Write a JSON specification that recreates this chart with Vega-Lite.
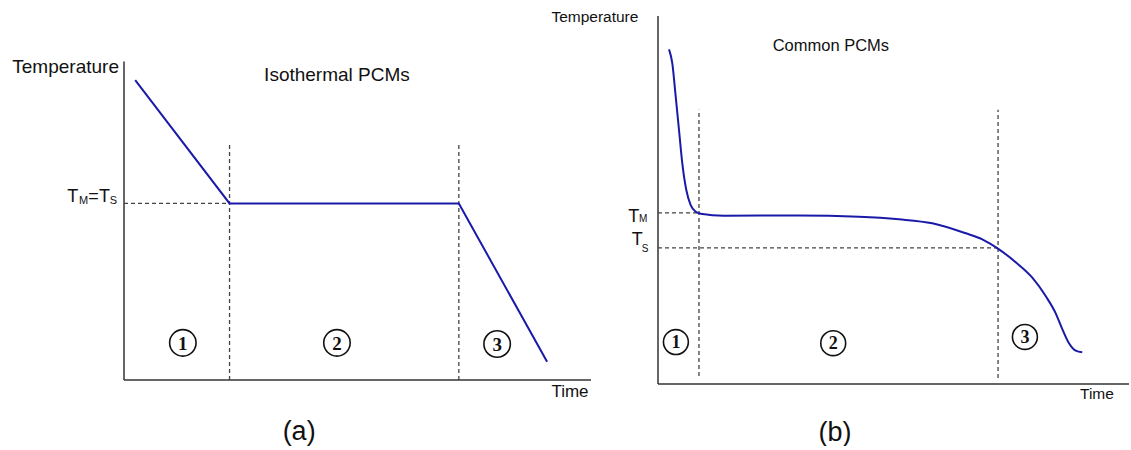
{
  "$schema": "https://vega.github.io/schema/vega-lite/v6.json",
  "padding": {"left": 12, "top": 10, "right": 0, "bottom": 0},
  "bounds": "flush",
  "spacing": 67,
  "config": {"view": {"stroke": null}, "font": "Liberation Sans"},
  "datasets": {
    "a_axes": [{"t": 0, "T": 0, "t2": 0, "T2": 87.5}, {"t": 0, "T": 0, "t2": 100, "T2": 0}],
    "a_dash": [{"t": 22.6, "T": 0, "t2": 22.6, "T2": 64.6}, {"t": 71.7, "T": 0, "t2": 71.7, "T2": 64.6}, {"t": 0, "T": 48.5, "t2": 22.6, "T2": 48.5}],
    "a_curve": [{"t": 2.4, "T": 82.4}, {"t": 22.6, "T": 48.5}, {"t": 71.7, "T": 48.5}, {"t": 90.6, "T": 5.0}],
    "a_phase": [{"t": 12.6, "T": 10.2, "label": "1"}, {"t": 45.6, "T": 10.2, "label": "2"}, {"t": 79.9, "T": 9.9, "label": "3"}],
    "a_big": [{"t": -12.5, "T": 86.0, "label": "Temperature"}, {"t": 45.6, "T": 83.7, "label": "Isothermal PCMs"}],
    "a_time": [{"t": 95.5, "T": -3.3, "label": "Time"}],
    "a_cap": [{"t": 37.5, "T": -14.3, "label": "(a)"}],
    "a_sym": [{"t": -12.14, "T": 49.0, "label": "T"}, {"t": -7.64, "T": 49.0, "label": "="}, {"t": -5.35, "T": 49.0, "label": "T"}],
    "a_sub": [{"t": -9.64, "T": 48.4, "label": "M"}, {"t": -3.06, "T": 48.4, "label": "S"}],
    "b_axes": [{"t": 0, "T": 0, "t2": 0, "T2": 100}, {"t": 0, "T": 0, "t2": 100, "T2": 0}],
    "b_dash": [{"t": 8.7, "T": 2.2, "t2": 8.7, "T2": 74.5}, {"t": 72.2, "T": 1.6, "t2": 72.2, "T2": 74.5}, {"t": 0, "T": 46.5, "t2": 8.7, "T2": 46.5}, {"t": 0, "T": 37.0, "t2": 72.2, "T2": 37.0}],
    "b_curve": [
      {"t": 2.34, "T": 90.95}, {"t": 3.04, "T": 87.15}, {"t": 3.76, "T": 78.07}, {"t": 4.46, "T": 69.02},
      {"t": 5.16, "T": 59.97}, {"t": 6.01, "T": 52.72}, {"t": 6.94, "T": 48.64}, {"t": 8.0, "T": 46.82},
      {"t": 9.07, "T": 46.28}, {"t": 14.01, "T": 45.73}, {"t": 29.94, "T": 45.79}, {"t": 42.68, "T": 45.46},
      {"t": 51.17, "T": 44.76}, {"t": 58.24, "T": 43.67}, {"t": 65.33, "T": 40.95}, {"t": 68.85, "T": 39.32},
      {"t": 72.4, "T": 36.6}, {"t": 75.94, "T": 33.1}, {"t": 79.47, "T": 28.9}, {"t": 82.31, "T": 23.9},
      {"t": 84.44, "T": 19.21}, {"t": 85.84, "T": 14.9}, {"t": 87.26, "T": 11.06}, {"t": 88.68, "T": 9.05},
      {"t": 90.08, "T": 8.61}
    ],
    "b_phase": [{"t": 3.8, "T": 11.4, "label": "1"}, {"t": 37.2, "T": 11.1, "label": "2"}, {"t": 77.9, "T": 12.8, "label": "3"}],
    "b_temp": [{"t": -13.4, "T": 99.7, "label": "Temperature"}, {"t": 93.2, "T": -2.7, "label": "Time"}],
    "b_title": [{"t": 36.7, "T": 91.8, "label": "Common PCMs"}],
    "b_cap": [{"t": 37.6, "T": -13.3, "label": "(b)"}],
    "b_sym": [{"t": -6.31, "T": 44.1, "label": "T"}, {"t": -5.58, "T": 37.8, "label": "T"}],
    "b_sub": [{"t": -4.03, "T": 43.9, "label": "M"}, {"t": -3.46, "T": 35.8, "label": "S"}]
  },
  "hconcat": [
    {
      "width": 467,
      "height": 364,
      "layer": [
        {
          "data": {"name": "a_axes"},
          "mark": {"type": "rule", "color": "#333333", "strokeWidth": 1.5},
          "encoding": {
            "x": {"field": "t", "type": "quantitative", "scale": {"domain": [0, 100], "nice": false, "zero": false}, "axis": null},
            "y": {"field": "T", "type": "quantitative", "scale": {"domain": [0, 100], "nice": false, "zero": false}, "axis": null},
            "x2": {"field": "t2"},
            "y2": {"field": "T2"}
          }
        },
        {
          "data": {"name": "a_dash"},
          "mark": {"type": "rule", "color": "#444444", "strokeWidth": 1.3, "strokeDash": [4, 3]},
          "encoding": {
            "x": {"field": "t", "type": "quantitative", "scale": {"domain": [0, 100], "nice": false, "zero": false}, "axis": null},
            "y": {"field": "T", "type": "quantitative", "scale": {"domain": [0, 100], "nice": false, "zero": false}, "axis": null},
            "x2": {"field": "t2"},
            "y2": {"field": "T2"}
          }
        },
        {
          "data": {"name": "a_curve"},
          "mark": {"type": "line", "color": "#1a1aa8", "strokeWidth": 2},
          "encoding": {
            "x": {"field": "t", "type": "quantitative", "scale": {"domain": [0, 100], "nice": false, "zero": false}, "axis": null},
            "y": {"field": "T", "type": "quantitative", "scale": {"domain": [0, 100], "nice": false, "zero": false}, "axis": null}
          }
        },
        {
          "data": {"name": "a_phase"},
          "mark": {"type": "point", "shape": "circle", "filled": false, "size": 700, "color": "#111111", "strokeWidth": 1.6, "opacity": 1},
          "encoding": {
            "x": {"field": "t", "type": "quantitative", "scale": {"domain": [0, 100], "nice": false, "zero": false}, "axis": null},
            "y": {"field": "T", "type": "quantitative", "scale": {"domain": [0, 100], "nice": false, "zero": false}, "axis": null}
          }
        },
        {
          "data": {"name": "a_phase"},
          "mark": {"type": "text", "font": "Liberation Serif", "fontSize": 19, "fontWeight": "bold", "color": "#111111", "align": "center", "baseline": "middle", "dy": 1},
          "encoding": {
            "x": {"field": "t", "type": "quantitative", "scale": {"domain": [0, 100], "nice": false, "zero": false}, "axis": null},
            "y": {"field": "T", "type": "quantitative", "scale": {"domain": [0, 100], "nice": false, "zero": false}, "axis": null},
            "text": {"field": "label"}
          }
        },
        {
          "data": {"name": "a_big"},
          "mark": {"type": "text", "fontSize": 19, "color": "#111111", "align": "center", "baseline": "middle"},
          "encoding": {
            "x": {"field": "t", "type": "quantitative", "scale": {"domain": [0, 100], "nice": false, "zero": false}, "axis": null},
            "y": {"field": "T", "type": "quantitative", "scale": {"domain": [0, 100], "nice": false, "zero": false}, "axis": null},
            "text": {"field": "label"}
          }
        },
        {
          "data": {"name": "a_time"},
          "mark": {"type": "text", "fontSize": 17, "color": "#111111", "align": "center", "baseline": "middle"},
          "encoding": {
            "x": {"field": "t", "type": "quantitative", "scale": {"domain": [0, 100], "nice": false, "zero": false}, "axis": null},
            "y": {"field": "T", "type": "quantitative", "scale": {"domain": [0, 100], "nice": false, "zero": false}, "axis": null},
            "text": {"field": "label"}
          }
        },
        {
          "data": {"name": "a_cap"},
          "mark": {"type": "text", "fontSize": 27, "color": "#111111", "align": "center", "baseline": "middle"},
          "encoding": {
            "x": {"field": "t", "type": "quantitative", "scale": {"domain": [0, 100], "nice": false, "zero": false}, "axis": null},
            "y": {"field": "T", "type": "quantitative", "scale": {"domain": [0, 100], "nice": false, "zero": false}, "axis": null},
            "text": {"field": "label"}
          }
        },
        {
          "data": {"name": "a_sym"},
          "mark": {"type": "text", "fontSize": 18, "color": "#111111", "align": "left", "baseline": "alphabetic"},
          "encoding": {
            "x": {"field": "t", "type": "quantitative", "scale": {"domain": [0, 100], "nice": false, "zero": false}, "axis": null},
            "y": {"field": "T", "type": "quantitative", "scale": {"domain": [0, 100], "nice": false, "zero": false}, "axis": null},
            "text": {"field": "label"}
          }
        },
        {
          "data": {"name": "a_sub"},
          "mark": {"type": "text", "fontSize": 11, "color": "#111111", "align": "left", "baseline": "alphabetic"},
          "encoding": {
            "x": {"field": "t", "type": "quantitative", "scale": {"domain": [0, 100], "nice": false, "zero": false}, "axis": null},
            "y": {"field": "T", "type": "quantitative", "scale": {"domain": [0, 100], "nice": false, "zero": false}, "axis": null},
            "text": {"field": "label"}
          }
        }
      ]
    },
    {
      "width": 471,
      "height": 368,
      "layer": [
        {
          "data": {"name": "b_axes"},
          "mark": {"type": "rule", "color": "#333333", "strokeWidth": 1.5},
          "encoding": {
            "x": {"field": "t", "type": "quantitative", "scale": {"domain": [0, 100], "nice": false, "zero": false}, "axis": null},
            "y": {"field": "T", "type": "quantitative", "scale": {"domain": [0, 100], "nice": false, "zero": false}, "axis": null},
            "x2": {"field": "t2"},
            "y2": {"field": "T2"}
          }
        },
        {
          "data": {"name": "b_dash"},
          "mark": {"type": "rule", "color": "#444444", "strokeWidth": 1.3, "strokeDash": [4, 3]},
          "encoding": {
            "x": {"field": "t", "type": "quantitative", "scale": {"domain": [0, 100], "nice": false, "zero": false}, "axis": null},
            "y": {"field": "T", "type": "quantitative", "scale": {"domain": [0, 100], "nice": false, "zero": false}, "axis": null},
            "x2": {"field": "t2"},
            "y2": {"field": "T2"}
          }
        },
        {
          "data": {"name": "b_curve"},
          "mark": {"type": "line", "color": "#1a1aa8", "strokeWidth": 2, "interpolate": "monotone"},
          "encoding": {
            "x": {"field": "t", "type": "quantitative", "scale": {"domain": [0, 100], "nice": false, "zero": false}, "axis": null},
            "y": {"field": "T", "type": "quantitative", "scale": {"domain": [0, 100], "nice": false, "zero": false}, "axis": null}
          }
        },
        {
          "data": {"name": "b_phase"},
          "mark": {"type": "point", "shape": "circle", "filled": false, "size": 620, "color": "#111111", "strokeWidth": 1.6, "opacity": 1},
          "encoding": {
            "x": {"field": "t", "type": "quantitative", "scale": {"domain": [0, 100], "nice": false, "zero": false}, "axis": null},
            "y": {"field": "T", "type": "quantitative", "scale": {"domain": [0, 100], "nice": false, "zero": false}, "axis": null}
          }
        },
        {
          "data": {"name": "b_phase"},
          "mark": {"type": "text", "font": "Liberation Serif", "fontSize": 18, "fontWeight": "bold", "color": "#111111", "align": "center", "baseline": "middle", "dy": 1},
          "encoding": {
            "x": {"field": "t", "type": "quantitative", "scale": {"domain": [0, 100], "nice": false, "zero": false}, "axis": null},
            "y": {"field": "T", "type": "quantitative", "scale": {"domain": [0, 100], "nice": false, "zero": false}, "axis": null},
            "text": {"field": "label"}
          }
        },
        {
          "data": {"name": "b_temp"},
          "mark": {"type": "text", "fontSize": 15.5, "color": "#111111", "align": "center", "baseline": "middle"},
          "encoding": {
            "x": {"field": "t", "type": "quantitative", "scale": {"domain": [0, 100], "nice": false, "zero": false}, "axis": null},
            "y": {"field": "T", "type": "quantitative", "scale": {"domain": [0, 100], "nice": false, "zero": false}, "axis": null},
            "text": {"field": "label"}
          }
        },
        {
          "data": {"name": "b_title"},
          "mark": {"type": "text", "fontSize": 16.5, "color": "#111111", "align": "center", "baseline": "middle"},
          "encoding": {
            "x": {"field": "t", "type": "quantitative", "scale": {"domain": [0, 100], "nice": false, "zero": false}, "axis": null},
            "y": {"field": "T", "type": "quantitative", "scale": {"domain": [0, 100], "nice": false, "zero": false}, "axis": null},
            "text": {"field": "label"}
          }
        },
        {
          "data": {"name": "b_cap"},
          "mark": {"type": "text", "fontSize": 27, "color": "#111111", "align": "center", "baseline": "middle"},
          "encoding": {
            "x": {"field": "t", "type": "quantitative", "scale": {"domain": [0, 100], "nice": false, "zero": false}, "axis": null},
            "y": {"field": "T", "type": "quantitative", "scale": {"domain": [0, 100], "nice": false, "zero": false}, "axis": null},
            "text": {"field": "label"}
          }
        },
        {
          "data": {"name": "b_sym"},
          "mark": {"type": "text", "fontSize": 18, "color": "#111111", "align": "left", "baseline": "alphabetic"},
          "encoding": {
            "x": {"field": "t", "type": "quantitative", "scale": {"domain": [0, 100], "nice": false, "zero": false}, "axis": null},
            "y": {"field": "T", "type": "quantitative", "scale": {"domain": [0, 100], "nice": false, "zero": false}, "axis": null},
            "text": {"field": "label"}
          }
        },
        {
          "data": {"name": "b_sub"},
          "mark": {"type": "text", "fontSize": 10, "color": "#111111", "align": "left", "baseline": "alphabetic"},
          "encoding": {
            "x": {"field": "t", "type": "quantitative", "scale": {"domain": [0, 100], "nice": false, "zero": false}, "axis": null},
            "y": {"field": "T", "type": "quantitative", "scale": {"domain": [0, 100], "nice": false, "zero": false}, "axis": null},
            "text": {"field": "label"}
          }
        }
      ]
    }
  ]
}
